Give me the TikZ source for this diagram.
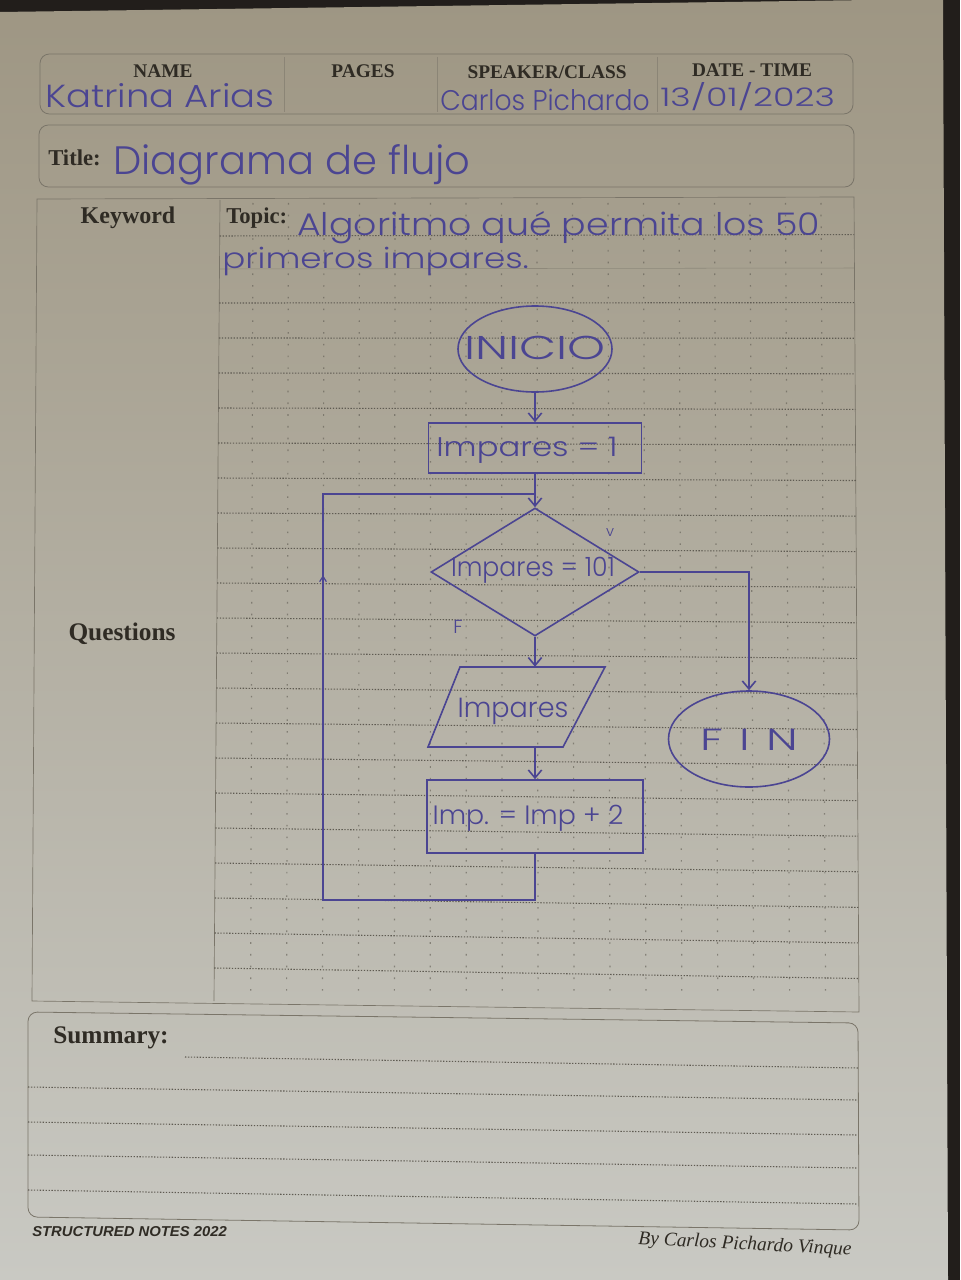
\documentclass[tikz,border=0pt]{standalone}
\usepackage{fontspec}
\usepackage{graphicx}
\usetikzlibrary{shapes.geometric,arrows.meta,calc,decorations.markings}
\setmainfont{Liberation Serif}
\newfontfamily\hand{Poppins}[UprightFont={* Light}]
\newfontfamily\footsans{Liberation Sans}

\definecolor{ink}{HTML}{4B4592}
\definecolor{print}{HTML}{2F2B24}
\definecolor{rule}{HTML}{7A7569}
\definecolor{dotc}{HTML}{5F5B52}
\definecolor{table}{HTML}{221E1B}
\definecolor{paperT}{HTML}{9E9683}
\definecolor{paperM}{HTML}{BAB6A9}
\definecolor{paperB}{HTML}{C9C9C3}

% handwritten text set to a given width and height
\newcommand\handw[3]{\resizebox{#1}{#2}{\hand #3}}

\begin{document}
\begin{tikzpicture}[x=0.75pt,y=-0.75pt,
  rulebox/.style={draw=rule, line width=0.6pt},
  faintrule/.style={draw=rule, line width=0.4pt, opacity=0.55},
  hdot/.style={draw=dotc, line width=0.8pt, dash pattern=on 1pt off 1.2pt},
  vdot/.style={draw=dotc, opacity=0.6, line width=0.9pt, dash pattern=on 1.2pt off 7.6pt},
  printlbl/.style={text=print, inner sep=0pt, font=\fontsize{14.5}{16}\selectfont\bfseries},
  biglbl/.style={text=print, inner sep=0pt, font=\fontsize{18}{20}\selectfont\bfseries},
  handtxt/.style={text=ink, inner sep=0pt},
  flow/.style={draw=ink, line width=1.2pt, inner sep=0pt},
  arr/.style={draw=ink, line width=1.2pt, -{Straight Barb[length=6pt,width=10pt]}},
  wire/.style={draw=ink, line width=1.2pt}]

\useasboundingbox (0,0) rectangle (960,1280);

% table and sheet of paper
\fill[table] (0,0) rectangle (960,1280);
\shade[top color=paperT, middle color=paperM, bottom color=paperB]
  (0,12) -- (870,0) -- (943,0) -- (948,1280) -- (0,1280) -- cycle;

% ---- header box ----
\draw[rulebox, rounded corners=7pt] (40,54) rectangle (853,114);
\draw[faintrule] (284,57) -- (284,112);
\draw[faintrule] (437,57) -- (437,112);
\draw[faintrule] (657,57) -- (657,112);
\node[printlbl] (hname) at (163,71) {NAME};
\node[printlbl] (hpages) at (363,71) {PAGES};
\node[printlbl] (hspeaker) at (547,72) {SPEAKER/CLASS};
\node[printlbl] (hdate) at (752,70) {DATE - TIME};
\node[handtxt, anchor=base west] (vname) at (45,108) {\handw{172pt}{18pt}{Katrina Arias}};
\node[handtxt, anchor=base west] (vspeaker) at (440,111) {\handw{157pt}{16pt}{Carlos Pichardo}};
\node[handtxt, anchor=base west] (vdate) at (660,107) {\handw{131pt}{18pt}{13/01/2023}};

% ---- title box ----
\draw[rulebox, rounded corners=7pt] (39,125) rectangle (854,187);
\node[printlbl, anchor=west, font=\fontsize{17}{19}\selectfont\bfseries] (htitle) at (48,158) {Title:};
\node[handtxt, anchor=base west] (vtitle) at (113,175) {\handw{268pt}{22.5pt}{Diagrama de flujo}};

% ---- main notes area ----
\draw[rulebox, line width=0.5pt] (37,199) -- (854,197) -- (859,1012) -- (32,1001) -- cycle;
\draw[rulebox, line width=0.5pt] (220,200) -- (214,1001);

% dot columns
\foreach \k in {0,...,16}{
  \pgfmathsetmacro\xt{253+35.5*\k}
  \pgfmathsetmacro\xb{\xt-5+10*(\xt-37)/817}
  \draw[vdot] (\xt,203) -- (\xb,998);
}
% dotted writing lines
\foreach \yy in {236,303,338,...,968}{
  \pgfmathsetmacro\xl{220-6*(\yy-200)/800}
  \pgfmathsetmacro\xr{854+5*(\yy-200)/800}
  \pgfmathsetmacro\yr{\yy-2+13*(\yy-200)/800}
  \draw[hdot] (\xl,\yy) -- (\xr,\yr);
}
\draw[faintrule] (219,269) -- (854,268);

\node[biglbl] (hkey) at (128,218) {Keyword};
\node[biglbl, anchor=west, font=\fontsize{17}{19}\selectfont\bfseries] (htopic) at (226,218) {Topic:};
\node[biglbl, font=\fontsize{19}{21}\selectfont\bfseries] (hquest) at (122,634) {Questions};
\node[handtxt, anchor=base west] (vtopic1) at (297,236) {\handw{392pt}{18pt}{Algoritmo qué permita los 50}};
\node[handtxt, anchor=base west] (vtopic2) at (222,268) {\handw{230pt}{16pt}{primeros impares.}};

% ---- flowchart ----
\node[flow, ellipse, minimum width=115.5pt, minimum height=64.5pt] (inicio) at (535,349) {};
\node[handtxt] (inicio-t) at (535,348) {\handw{106pt}{17.5pt}{INICIO}};

\node[flow, rectangle, minimum width=159.75pt, minimum height=37.5pt] (asig) at (535,448) {};
\node[handtxt] (asig-t) at (527,450) {\handw{136pt}{14.5pt}{Impares = 1}};

\node[flow, diamond, minimum width=156pt, minimum height=96pt] (dec) at (535,572) {};
\node[handtxt] (dec-t) at (533,570) {\handw{123pt}{14.5pt}{Impares = 101}};

\node[inner sep=0pt, minimum width=108.75pt, minimum height=60pt] (out) at (516,707) {};
\draw[flow] ($(out.center)+(-56,-40)$) -- ($(out.center)+(89,-40)$)
  -- ($(out.center)+(47,40)$) -- ($(out.center)+(-88,40)$) -- cycle;
\node[handtxt] (out-t) at (513,711) {\handw{83pt}{14.5pt}{Impares}};

\node[flow, rectangle, minimum width=162pt, minimum height=54.75pt] (inc) at (535,816.5) {};
\node[handtxt] (inc-t) at (528,818) {\handw{143pt}{14.5pt}{Imp. = Imp + 2}};

\node[flow, ellipse, minimum width=120.75pt, minimum height=72pt] (fin) at (749,739) {};
\node[handtxt] (fin-t) at (749,740) {\handw{73pt}{16pt}{F\hspace{0.35em}I\hspace{0.35em}N}};

\node[handtxt] (vlab) at (610,533) {\resizebox{6pt}{!}{\hand v}};
\node[handtxt] (flab) at (458,627) {\resizebox{7pt}{!}{\hand F}};

% connectors
\coordinate (join) at (535,494);
\coordinate (lb) at (323,900);
\coordinate (lt) at (323,494);

\draw[arr] (inicio.south) -- (asig.north);
\draw[arr] (asig.south) -- (dec.north);
\draw[arr] (dec.east) -| (fin.north);
\draw[arr] (dec.south) -- (dec.south |- out.north);
\draw[arr] (dec.south |- out.south) -- (inc.north);
\draw[wire] (inc.south) |- (lb) -- (lt) -- (join);
\path[postaction={decorate}, decoration={markings,
  mark=at position 0.8 with {\arrow[ink, line width=0.9pt]{Straight Barb[length=4pt,width=5pt]}}}]
  (lb) -- (lt);

% ---- summary box ----
\draw[rulebox, rounded corners=7pt] (28,1012) -- (858,1023) -- (859,1230) -- (28,1217) -- cycle;
\node[biglbl, anchor=west, font=\fontsize{19}{21}\selectfont\bfseries] (hsum) at (53,1038) {Summary:};
\draw[hdot] (185,1057) -- (858,1068);
\draw[hdot] (28,1087) -- (858,1100);
\draw[hdot] (28,1122) -- (858,1135);
\draw[hdot] (28,1155) -- (858,1168);
\draw[hdot] (28,1190) -- (858,1204);

% ---- footer ----
\node[text=print, inner sep=0pt, anchor=west] (brand) at (32,1232)
  {\resizebox{146pt}{7.5pt}{\footsans\bfseries\itshape STRUCTURED NOTES 2022}};
\node[text=print, inner sep=0pt, rotate=-3] (author) at (745,1245)
  {\resizebox{160pt}{!}{\itshape By Carlos Pichardo Vinque}};

\end{tikzpicture}
\end{document}
